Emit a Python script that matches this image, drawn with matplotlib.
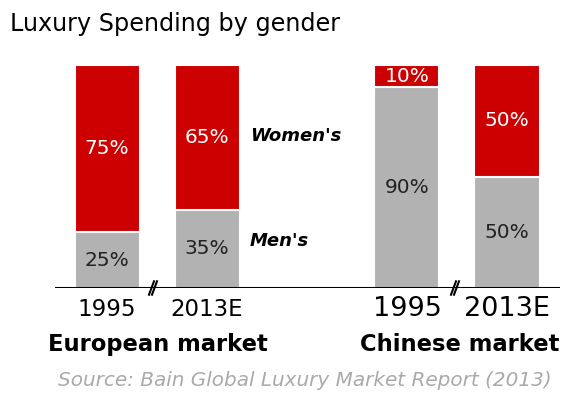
import matplotlib.pyplot as plt

# data
positions = [0, 1, 3, 4]
years = ['1995', '2013E', '1995', '2013E']
men = [25, 35, 90, 50]
women = [75, 65, 10, 50]
markets = ['European market', 'Chinese market']
source = 'Source: Bain Global Luxury Market Report (2013)'

red = '#cc0000'
grey = '#b2b2b2'

fig = plt.figure(figsize=(5.88, 3.94), dpi=100)
ax = fig.add_axes([55 / 588, 106 / 394, 505 / 588, 223 / 394])

ax.bar(positions, men, width=0.65, color=grey, edgecolor='white', linewidth=1.5)
ax.bar(positions, women, bottom=men, width=0.65, color=red, edgecolor='white', linewidth=1.5)

for x, m, w in zip(positions, men, women):
    ax.text(x, m / 2, '{0}%'.format(m), ha='center', va='center', fontsize=14.5, color='#222222')
    ax.text(x, m + w / 2, '{0}%'.format(w), ha='center', va='center', fontsize=14.5, color='white')

ax.set_xlim(-0.52, 4.53)
ax.set_ylim(0, 100)
ax.axis('off')

# baseline with break marks
ax.axhline(0, color='black', linewidth=1.5)
for bx in [0.46, 3.48]:
    for dx in [-0.015, 0.015]:
        ax.plot([bx + dx - 0.025, bx + dx + 0.025], [-3, 3], color='black', linewidth=1.5, clip_on=False)

# year labels
for x, yr in zip(positions, years):
    size = 16.5 if x < 2 else 19.5
    ax.text(x, -9.5, yr, ha='center', va='center', fontsize=size)

ax.text(0.51, -25.5, markets[0], ha='center', va='center', fontsize=16.3, fontweight='bold')
ax.text(3.53, -25.5, markets[1], ha='center', va='center', fontsize=16.3, fontweight='bold')

ax.text(1.43, 68, "Women's", ha='left', va='center', fontsize=13, fontstyle='italic', fontweight='bold')
ax.text(1.43, 21, "Men's", ha='left', va='center', fontsize=13, fontstyle='italic', fontweight='bold')

fig.text(10 / 588, 1 - 24 / 394, 'Luxury Spending by gender', ha='left', va='center', fontsize=17.2)
fig.text(305 / 588, 1 - 380 / 394, source, ha='center', va='center', fontsize=14.4,
         fontstyle='italic', color='#aaaaaa')

plt.savefig('out.png', dpi=100)
